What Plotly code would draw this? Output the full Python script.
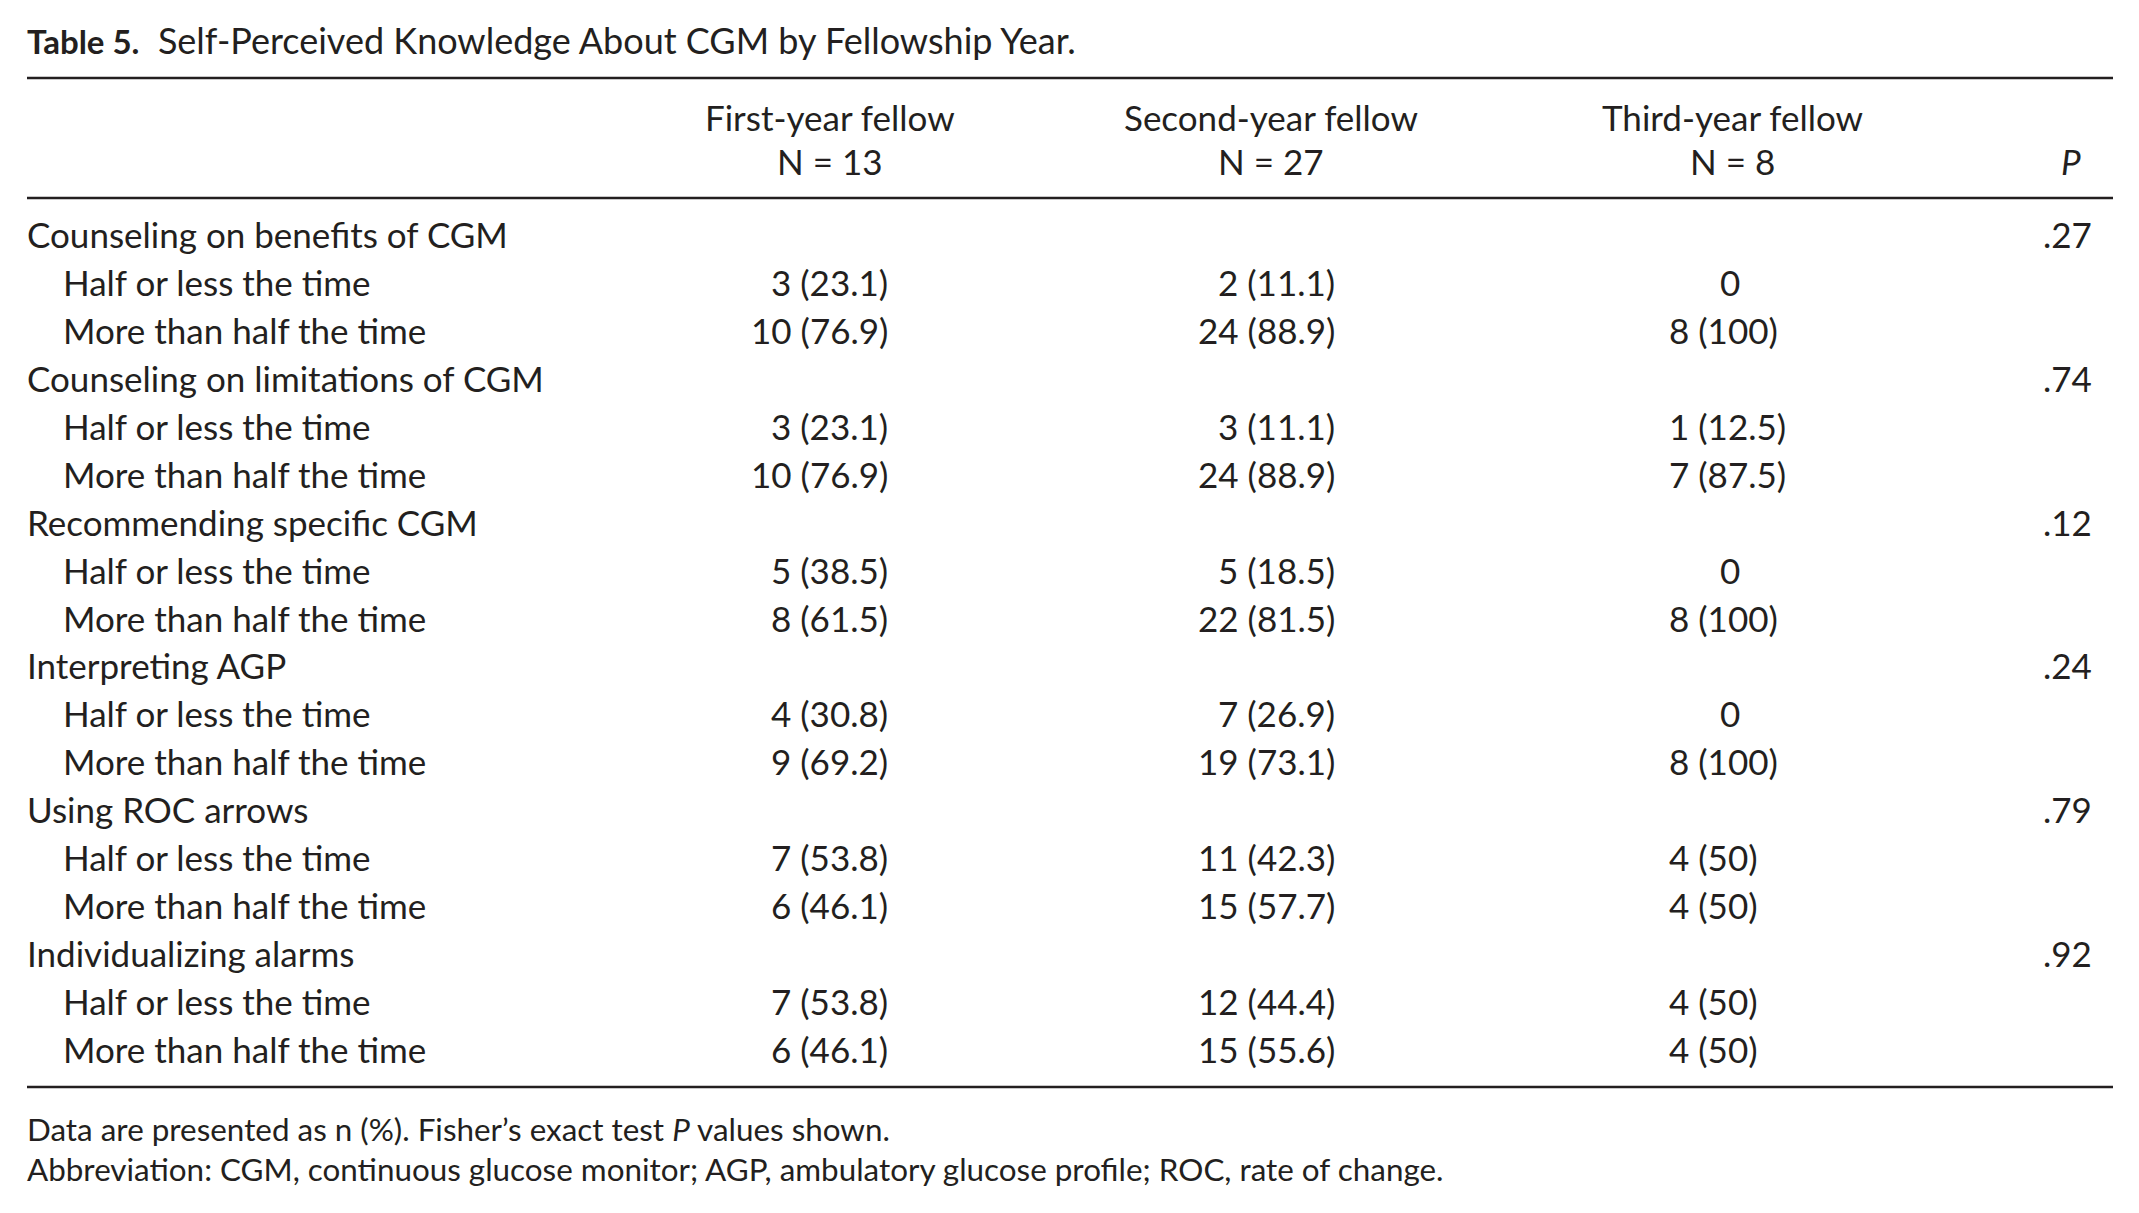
import plotly.graph_objects as go

# ---- data ----
title_bold = "Table 5."
title_rest = "Self-Perceived Knowledge About CGM by Fellowship Year."
col_headers = ["First-year fellow", "Second-year fellow", "Third-year fellow"]
col_n = ["N = 13", "N = 27", "N = 8"]
p_header = "P"
categories = ["Counseling on benefits of CGM", "Counseling on limitations of CGM",
              "Recommending specific CGM", "Interpreting AGP",
              "Using ROC arrows", "Individualizing alarms"]
sub_rows = ["Half or less the time", "More than half the time"]
first_year = ["3 (23.1)", "10 (76.9)", "3 (23.1)", "10 (76.9)", "5 (38.5)", "8 (61.5)",
              "4 (30.8)", "9 (69.2)", "7 (53.8)", "6 (46.1)", "7 (53.8)", "6 (46.1)"]
second_year = ["2 (11.1)", "24 (88.9)", "3 (11.1)", "24 (88.9)", "5 (18.5)", "22 (81.5)",
               "7 (26.9)", "19 (73.1)", "11 (42.3)", "15 (57.7)", "12 (44.4)", "15 (55.6)"]
third_year = ["0", "8 (100)", "1 (12.5)", "7 (87.5)", "0", "8 (100)",
              "0", "8 (100)", "4 (50)", "4 (50)", "4 (50)", "4 (50)"]
p_values = [".27", ".74", ".12", ".24", ".79", ".92"]
footnotes = ["Data are presented as n (%). Fisher’s exact test <i>P</i> values shown.",
             "Abbreviation: CGM, continuous glucose monitor; AGP, ambulatory glucose profile; ROC, rate of change."]

# ---- layout constants ----
W, H = 2139, 1213
FONT = "Lato"
FS = 35
FS_TITLE = 36
FS_TITLE_BOLD = 33
FS_FOOT = 31.4
COLOR = "#231f20"
X_RULE_L, X_RULE_R = 27, 2113
X_TEXT = 25
X_INDENT = 61
C1_CENTER, C1_RIGHT = 830, 890
C2_CENTER, C2_RIGHT = 1271, 1337
C3_CENTER, C3_LEFT = 1732, 1667
C3_ZERO = 1730
P_CENTER, P_RIGHT = 2071, 2094
Y_TITLE = 40
Y_RULE1, Y_RULE2, Y_RULE3 = 78, 198, 1087
Y_H1, Y_H2 = 117, 161
Y_ROW0, DY = 234, 47.94
Y_FOOT = [1129, 1169]

fig = go.Figure()
ann = []

def add(text, x, y, xanchor="left", size=FS):
    ann.append(dict(text=text, x=x, y=y, xref="x", yref="y", xanchor=xanchor,
                    yanchor="middle", showarrow=False,
                    font=dict(family=FONT, size=size, color=COLOR)))

add(f"<b><span style='font-size:{FS_TITLE_BOLD}px'>{title_bold}</span></b>  {title_rest}",
    X_TEXT, Y_TITLE, size=FS_TITLE)

for cx, h, n in zip([C1_CENTER, C2_CENTER, C3_CENTER], col_headers, col_n):
    add(h, cx, Y_H1, "center")
    add(n, cx, Y_H2, "center")
add(f"<i>{p_header}</i>", P_CENTER, Y_H2, "center")

r = 0
for ci, cat in enumerate(categories):
    y = Y_ROW0 + DY * r
    add(cat, X_TEXT, y)
    add(p_values[ci], P_RIGHT, y, "right")
    r += 1
    for si, sub in enumerate(sub_rows):
        k = ci * 2 + si
        y = Y_ROW0 + DY * r
        add(sub, X_INDENT, y)
        add(first_year[k], C1_RIGHT, y, "right")
        add(second_year[k], C2_RIGHT, y, "right")
        v3 = third_year[k]
        if "(" in v3:
            add(v3, C3_LEFT, y, "left")
        else:
            add(v3, C3_ZERO, y, "center")
        r += 1

for i, f in enumerate(footnotes):
    add(f, X_TEXT, Y_FOOT[i], size=FS_FOOT)

shapes = [dict(type="line", xref="x", yref="y", x0=X_RULE_L, x1=X_RULE_R, y0=yy, y1=yy,
               line=dict(color=COLOR, width=2.5)) for yy in (Y_RULE1, Y_RULE2, Y_RULE3)]

fig.update_layout(
    width=W, height=H, margin=dict(l=0, r=0, t=0, b=0),
    paper_bgcolor="white", plot_bgcolor="white",
    xaxis=dict(range=[0, W], visible=False, fixedrange=True),
    yaxis=dict(range=[H, 0], visible=False, fixedrange=True),
    annotations=ann, shapes=shapes, showlegend=False,
)
fig.write_html("out.html", config={"displayModeBar": False},
               post_script="document.body.style.margin='0';document.body.style.overflow='hidden';")
